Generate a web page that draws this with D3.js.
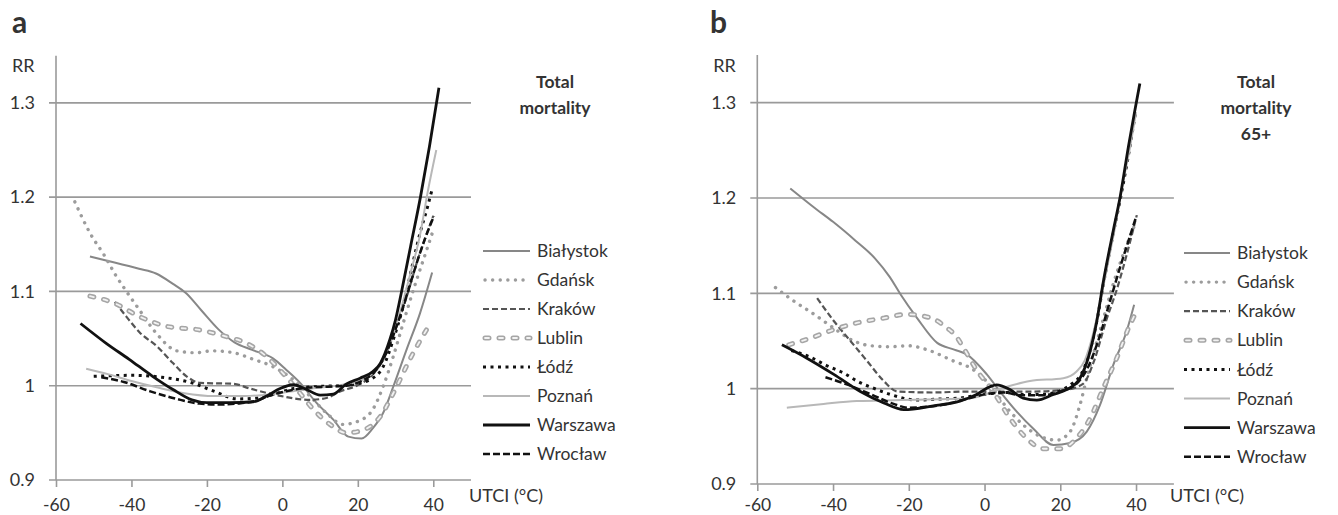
<!DOCTYPE html>
<html>
<head>
<meta charset="utf-8">
<script src="https://cdn.jsdelivr.net/npm/d3@7"></script>
<style>
  html, body { margin: 0; padding: 0; background: #fff; }
  svg text { font-family: Lato, "Open Sans", sans-serif; fill: #333; }
</style>
</head>
<body>
<svg id="chart" width="1338" height="515"></svg>
<script>
// ---- data -------------------------------------------------------------
const cities = ["Białystok", "Gdańsk", "Kraków", "Lublin", "Łódź", "Poznań", "Warszawa", "Wrocław"];
const xTicks = [-60, -40, -20, 0, 20, 40];
const xTickLabels = ["-60", "-40", "-20", "0", "20", "40"];
const yTicks = [0.9, 1, 1.1, 1.2, 1.3];
const yTickLabels = ["0.9", "1", "1.1", "1.2", "1.3"];
const titleA = ["Total", "mortality"];
const titleB = ["Total", "mortality", "65+"];

// Panel a – total mortality: [UTCI (°C), RR]
const totalBialystok = [[-51,1.137],[-45.9,1.132],[-38,1.124],[-33.5,1.119],[-29,1.108],[-25.5,1.098],[-21.5,1.080],[-17,1.060],[-12.7,1.046],[-8,1.038],[-2.5,1.029],[1,1.017],[4.7,1.003],[9,0.982],[13.5,0.964],[17.5,0.946],[21,0.944],[24,0.955],[26.7,0.971],[29.4,0.999],[32.9,1.038],[36.5,1.077],[39.7,1.120]];
const totalGdansk = [[-55,1.195],[-51,1.162],[-47,1.137],[-44,1.116],[-41.5,1.101],[-38,1.081],[-33.5,1.056],[-28,1.037],[-23,1.035],[-18.5,1.037],[-13,1.035],[-7.7,1.028],[-2.4,1.020],[3,1.006],[7.3,0.989],[11.7,0.971],[16,0.959],[20.5,0.963],[24,0.975],[26.7,0.999],[29.4,1.031],[32,1.066],[35,1.105],[37.5,1.135],[40,1.165]];
const totalKrakow = [[-44.4,1.089],[-41.3,1.073],[-37.7,1.056],[-33.3,1.042],[-29,1.024],[-25.4,1.010],[-21.8,1.003],[-13,1.002],[-8.6,0.997],[-1.5,0.990],[7.3,0.985],[11.7,0.987],[15.3,0.994],[19.7,1.0],[24,1.012],[27,1.03],[30,1.06],[33,1.095],[36,1.135],[38,1.158],[40,1.18]];
const totalLublin = [[-51,1.095],[-44.8,1.088],[-37.7,1.073],[-30.7,1.063],[-21.8,1.059],[-14.8,1.052],[-9.5,1.045],[-4.2,1.031],[0.2,1.013],[4.7,0.992],[8.2,0.975],[12.6,0.959],[17,0.950],[21.4,0.953],[25.9,0.967],[29.4,0.992],[33.8,1.028],[39.2,1.066]];
const totalLodz = [[-50,1.010],[-40,1.011],[-32,1.009],[-24,1.003],[-18,0.994],[-12,0.986],[-6,0.987],[-1.5,0.992],[3,0.997],[9,0.999],[18,1.001],[23,1.006],[26.7,1.02],[29.4,1.049],[32,1.084],[34.7,1.132],[36.5,1.162],[38.5,1.19],[39.8,1.21]];
const totalPoznan = [[-52,1.018],[-46,1.012],[-40,1.005],[-33,0.998],[-26,0.992],[-18,0.989],[-10,0.989],[-3,0.991],[4,0.995],[10,0.998],[16,1.001],[21,1.006],[25,1.018],[28,1.04],[31,1.075],[34,1.12],[36.5,1.16],[38.5,1.205],[40.8,1.25]];
const totalWarszawa = [[-53.5,1.066],[-46.7,1.045],[-40.6,1.028],[-34.4,1.010],[-29,0.996],[-24,0.985],[-20,0.982],[-14,0.982],[-7.7,0.983],[-4.2,0.989],[-0.6,0.997],[2.9,1.001],[6.4,0.996],[10,0.990],[13.5,0.991],[17,1.002],[20.6,1.008],[24,1.015],[26,1.024],[28.5,1.049],[30,1.07],[31.6,1.1],[34,1.148],[36.6,1.2],[39,1.254],[41.5,1.316]];
const totalWroclaw = [[-48,1.009],[-42,1.004],[-35,0.994],[-28,0.986],[-22,0.981],[-17,0.980],[-12,0.981],[-7,0.984],[-3,0.99],[2,0.995],[7,0.998],[12,0.999],[17,1.0],[21,1.005],[24.5,1.015],[27,1.03],[30,1.06],[33,1.096],[36,1.135],[38,1.158],[40.2,1.18]];

// Panel b – total mortality 65+: [UTCI (°C), RR]
const elderlyBialystok = [[-51.3,1.21],[-45,1.19],[-40,1.175],[-34,1.155],[-29,1.137],[-25,1.117],[-22.2,1.099],[-17.8,1.074],[-12.5,1.048],[-8,1.041],[-4.7,1.036],[0.6,1.015],[4.1,0.997],[8.5,0.976],[12.9,0.958],[18.2,0.941],[22.6,0.943],[27,0.955],[30.5,0.983],[34,1.025],[37.5,1.060],[39.5,1.088]];
const elderlyGdansk = [[-55.2,1.106],[-50.4,1.092],[-45,1.078],[-40,1.064],[-34.5,1.050],[-30,1.045],[-25,1.044],[-20,1.045],[-15.3,1.041],[-8.2,1.029],[-3,1.020],[1.4,1.004],[5.9,0.980],[10.2,0.962],[14.7,0.950],[19.1,0.946],[22.6,0.955],[25.2,0.983],[27,1.011],[29,1.04],[31.5,1.075],[34,1.11],[37,1.145],[40,1.175]];
const elderlyKrakow = [[-44.2,1.095],[-39.8,1.071],[-35.4,1.050],[-31,1.029],[-26.6,1.008],[-23,0.997],[-13.5,0.996],[-4.7,0.997],[5,0.997],[12.9,0.997],[21.7,0.999],[26,1.005],[29,1.03],[32,1.07],[35,1.105],[37.5,1.14],[40.2,1.182]];
const elderlyLublin = [[-51.7,1.046],[-46,1.053],[-39.8,1.062],[-33.7,1.069],[-26.6,1.074],[-20.5,1.078],[-16,1.076],[-13.4,1.073],[-10,1.064],[-7.5,1.055],[-5.6,1.043],[-2,1.019],[2.3,0.997],[6.7,0.969],[11.1,0.948],[15.5,0.937],[19.9,0.937],[24.3,0.948],[27.9,0.969],[31.4,1.001],[34.9,1.032],[38.4,1.067],[40,1.08]];
const elderlyLodz = [[-51,1.040],[-46,1.033],[-41.6,1.024],[-37,1.016],[-33.7,1.008],[-29,1.0],[-24.9,0.994],[-17.8,0.988],[-12.6,0.989],[-7,0.99],[-2,0.993],[2,0.995],[6,0.996],[10,0.994],[15,0.994],[20,0.998],[23,1.005],[25.5,1.015],[27.5,1.035],[29.6,1.07],[31.4,1.11],[34,1.163],[35.8,1.198],[38,1.245],[39.8,1.288]];
const elderlyPoznan = [[-52.2,0.980],[-42.5,0.984],[-33.7,0.987],[-22,0.988],[-12,0.989],[-3.8,0.990],[5,1.001],[12,1.008],[20.8,1.011],[24.3,1.018],[26.5,1.03],[28.5,1.055],[30.5,1.09],[32.5,1.13],[34.5,1.17],[36.5,1.215],[38.5,1.255],[40,1.29]];
const elderlyWarszawa = [[-53.5,1.046],[-46.9,1.032],[-39.8,1.015],[-32.8,0.997],[-26.6,0.985],[-21.3,0.978],[-13.5,0.982],[-6.5,0.987],[-2.1,0.994],[1.4,1.002],[3.2,1.004],[6.7,0.999],[10.2,0.990],[13.8,0.988],[18.2,0.994],[21.7,0.999],[25.2,1.011],[27.5,1.034],[29.6,1.070],[31.4,1.113],[34,1.166],[35.8,1.201],[38,1.254],[39.7,1.292],[41,1.320]];
const elderlyWroclaw = [[-42,1.012],[-36,1.004],[-30,0.994],[-24,0.984],[-20,0.98],[-15,0.981],[-10,0.984],[-5,0.989],[0,0.994],[5,0.996],[10,0.993],[15,0.993],[20,0.997],[24,1.004],[27,1.02],[30,1.05],[33,1.09],[36,1.13],[38,1.155],[40,1.18]];

const seriesA = [totalBialystok, totalGdansk, totalKrakow, totalLublin, totalLodz, totalPoznan, totalWarszawa, totalWroclaw];
const seriesB = [elderlyBialystok, elderlyGdansk, elderlyKrakow, elderlyLublin, elderlyLodz, elderlyPoznan, elderlyWarszawa, elderlyWroclaw];

// ---- line styles per city --------------------------------------------
const styles = {
  "Białystok": { color: "#878787", width: 2 },
  "Gdańsk":    { color: "#9c9c9c", width: 3.4, dash: "0.1 7.5", cap: "round" },
  "Kraków":    { color: "#555555", width: 2.2, dash: "6 3" },
  "Lublin":    { color: "#a6a6a6", width: 5, dash: "4 10", cap: "round", inner: "#f2f2f2", innerWidth: 1.8 },
  "Łódź":      { color: "#111111", width: 3, dash: "3 4.5" },
  "Poznań":    { color: "#b8b8b8", width: 2 },
  "Warszawa":  { color: "#111111", width: 2.8 },
  "Wrocław":   { color: "#111111", width: 2.5, dash: "7 3" }
};

const svg = d3.select("#chart");

function styleLine(sel, st, inner) {
  sel.attr("fill", "none")
    .attr("stroke", inner ? st.inner : st.color)
    .attr("stroke-width", inner ? st.innerWidth : st.width)
    .attr("stroke-linecap", st.cap || "butt")
    .attr("stroke-linejoin", "round");
  if (st.dash) sel.attr("stroke-dasharray", st.dash);
  return sel;
}

function drawPanel(cfg) {
  const g = svg.append("g");
  const x = d3.scaleLinear().domain([-60, 50]).range(cfg.xRange);
  const y = d3.scaleLinear().domain([0.9, 1.35]).range(cfg.yRange);
  const axisColor = "#9a9a9a";

  // horizontal gridlines (with left tick stubs)
  g.append("g").selectAll("line").data(yTicks).join("line")
    .attr("x1", x(-60) - 7).attr("x2", x(50))
    .attr("y1", d => y(d)).attr("y2", d => y(d))
    .attr("stroke", axisColor).attr("stroke-width", 1.6);

  // vertical axis
  g.append("line")
    .attr("x1", x(-60)).attr("x2", x(-60))
    .attr("y1", y(1.35)).attr("y2", y(0.9))
    .attr("stroke", axisColor).attr("stroke-width", 1.6);

  // x ticks
  const xAxis = d3.axisBottom(x).tickValues(xTicks).tickSize(7)
    .tickFormat((d, i) => xTickLabels[i]);
  const xa = g.append("g").attr("transform", `translate(0,${y(0.9)})`).call(xAxis);
  xa.select(".domain").remove();
  xa.selectAll(".tick line").attr("stroke", axisColor).attr("stroke-width", 1.6);
  xa.selectAll(".tick text").attr("y", 511 - y(0.9)).attr("dy", null)
    .attr("font-size", 17.5).attr("font-family", "Lato, sans-serif").attr("fill", "#333");

  // y labels
  g.append("g").selectAll("text").data(yTicks).join("text")
    .attr("x", x(-60) - 21).attr("y", d => y(d)).attr("dy", "0.35em")
    .attr("text-anchor", "end").attr("font-size", 18)
    .text((d, i) => yTickLabels[i]);

  g.append("text").attr("x", x(-60) - 44).attr("y", 72).attr("font-size", 18).text("RR");
  g.append("text").attr("x", cfg.unitX).attr("y", 502).attr("font-size", 18).text("UTCI (°C)");

  // panel letter
  g.append("text").attr("x", cfg.letterX).attr("y", 33)
    .attr("font-family", "Liberation Sans, Arial, sans-serif")
    .attr("font-weight", "bold").attr("font-size", 30).attr("fill", "#000")
    .text(cfg.letter);

  // title
  g.append("g").selectAll("text").data(cfg.title).join("text")
    .attr("x", cfg.titleX).attr("y", (d, i) => 88 + i * 26)
    .attr("text-anchor", "middle").attr("font-weight", "bold").attr("font-size", 17.5)
    .attr("fill", "#222").text(d => d);

  // series
  const line = d3.line().x(d => x(d[0])).y(d => y(d[1])).curve(d3.curveMonotoneX);
  cfg.series.forEach((data, i) => {
    const st = styles[cities[i]];
    styleLine(g.append("path").attr("d", line(data)), st, false);
    if (st.inner) styleLine(g.append("path").attr("d", line(data)), st, true);
  });

  // legend
  const lg = g.append("g");
  cities.forEach((name, i) => {
    const st = styles[name];
    const yy = cfg.legendY + i * cfg.legendStep;
    const x1 = cfg.legendX, x2 = cfg.legendX + cfg.legendLen;
    styleLine(lg.append("line").attr("x1", x1 + (st.cap === "round" ? 2 : 0)).attr("x2", x2).attr("y1", yy).attr("y2", yy), st, false);
    if (st.inner) styleLine(lg.append("line").attr("x1", x1 + 2).attr("x2", x2).attr("y1", yy).attr("y2", yy), st, true);
    lg.append("text").attr("x", x2 + 7).attr("y", yy).attr("dy", "0.35em")
      .attr("font-size", 17.5).text(name);
  });
}

drawPanel({
  xRange: [56, 471], yRange: [480, 55.7],
  letter: "a", letterX: 12, title: titleA, titleX: 555, unitX: 469,
  legendX: 483, legendLen: 47, legendY: 251, legendStep: 29,
  series: seriesA
});
drawPanel({
  xRange: [757.3, 1173.9], yRange: [484, 55],
  letter: "b", letterX: 710, title: titleB, titleX: 1256, unitX: 1170,
  legendX: 1184, legendLen: 46, legendY: 253, legendStep: 29.1,
  series: seriesB
});
</script>
</body>
</html>
